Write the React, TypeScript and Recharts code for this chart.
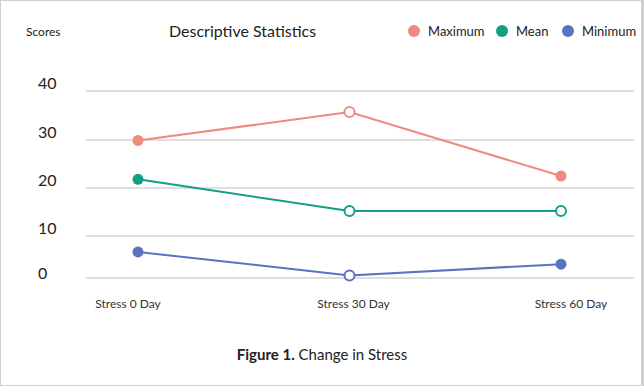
import React from "react";
import { LineChart, Line, XAxis, YAxis, CartesianGrid } from "recharts";

const days = ["Stress 0 Day", "Stress 30 Day", "Stress 60 Day"];
const maximum = [29.9, 35.7, 22.5];
const mean = [21.8, 15.2, 15.2];
const minimum = [6.2, 0.6, 3.3];
const scoreTicks = [0, 10, 20, 30, 40];

// the source axis is not evenly spaced: where each tick sits, 0 = bottom, 1 = top
const tickStops = [0, 0.2246, 0.4813, 0.738, 1];

const COLORS = { Maximum: "#ef8a7e", Mean: "#12a085", Minimum: "#5a73be" };
// which points are drawn as open rings
const hollow: Record<string, number[]> = { Maximum: [1], Mean: [1, 2], Minimum: [1] };

const FONT = "Lato, 'Open Sans', sans-serif";

function stepScale(): any {
  let dom = [0, 40];
  let rng = [0, 1];
  const s: any = (v: number) => {
    let t = 0;
    if (v <= scoreTicks[0]) t = 0;
    else if (v >= scoreTicks[scoreTicks.length - 1]) t = 1;
    else {
      for (let i = 0; i < scoreTicks.length - 1; i++) {
        if (v >= scoreTicks[i] && v <= scoreTicks[i + 1]) {
          const f = (v - scoreTicks[i]) / (scoreTicks[i + 1] - scoreTicks[i]);
          t = tickStops[i] + f * (tickStops[i + 1] - tickStops[i]);
          break;
        }
      }
    }
    return rng[0] + t * (rng[1] - rng[0]);
  };
  s.domain = (d?: number[]) => {
    if (d === undefined) return dom.slice();
    dom = d.map(Number);
    return s;
  };
  s.range = (r?: number[]) => {
    if (r === undefined) return rng.slice();
    rng = r.slice();
    return s;
  };
  s.copy = () => stepScale().domain(dom).range(rng);
  s.ticks = () => scoreTicks.slice();
  s.tickFormat = () => (v: number) => String(v);
  s.nice = () => s;
  s.clamp = () => s;
  return s;
}

const data = days.map((day, i) => ({
  day,
  Maximum: maximum[i],
  Mean: mean[i],
  Minimum: minimum[i],
}));

const makeDot = (name: keyof typeof COLORS) => (p: any) => {
  const open = hollow[name].includes(p.index);
  const c = COLORS[name];
  return (
    <circle
      key={`${name}-${p.index}`}
      cx={p.cx}
      cy={p.cy}
      r={open ? 5 : 5.5}
      fill={open ? "#fff" : c}
      stroke={c}
      strokeWidth={open ? 2 : 0}
    />
  );
};

const YTick = (props: any) => {
  const { y, payload } = props;
  const lift = payload.value === 0 ? 5 : 8;
  return (
    <text x={38} y={y - lift} dy="0.35em" fontSize={16} fill="#222" fontFamily={FONT}>
      {payload.value}
    </text>
  );
};

const tickShift = [-10, 4, 10];
const XTick = (props: any) => {
  const { x, y, payload, index } = props;
  return (
    <text
      x={x + (tickShift[index] ?? 0)}
      y={y + 18}
      dy="0.35em"
      textAnchor="middle"
      fontSize={12}
      fill="#333"
      fontFamily={FONT}
    >
      {payload.value}
    </text>
  );
};

const legendItems = [
  { key: "Maximum", left: 408 },
  { key: "Mean", left: 496 },
  { key: "Minimum", left: 562 },
] as const;

export default function App() {
  return (
    <div style={{ position: "relative", width: 644, height: 386, background: "#fff", fontFamily: FONT }}>
      <style>{"body{margin:0;}"}</style>
      <LineChart
        width={644}
        height={386}
        data={data}
        margin={{ top: 91, right: 10, bottom: 68, left: 0 }}
        style={{ position: "absolute", left: 0, top: 0 }}
      >
        <CartesianGrid vertical={false} stroke="#dedede" strokeWidth={2} />
        <XAxis
          dataKey="day"
          axisLine={false}
          tickLine={false}
          height={40}
          padding={{ left: 52, right: 73 }}
          tick={<XTick />}
          interval={0}
        />
        <YAxis
          domain={[0, 40]}
          scale={stepScale()}
          ticks={scoreTicks}
          axisLine={false}
          tickLine={false}
          width={86}
          tick={<YTick />}
        />
        <Line
          type="linear"
          dataKey="Maximum"
          stroke={COLORS.Maximum}
          strokeWidth={2}
          dot={makeDot("Maximum")}
          activeDot={false}
          isAnimationActive={false}
        />
        <Line
          type="linear"
          dataKey="Mean"
          stroke={COLORS.Mean}
          strokeWidth={2}
          dot={makeDot("Mean")}
          activeDot={false}
          isAnimationActive={false}
        />
        <Line
          type="linear"
          dataKey="Minimum"
          stroke={COLORS.Minimum}
          strokeWidth={2}
          dot={makeDot("Minimum")}
          activeDot={false}
          isAnimationActive={false}
        />
      </LineChart>
      {legendItems.map((it) => (
        <div
          key={it.key}
          style={{
            position: "absolute",
            left: it.left,
            top: 23,
            display: "flex",
            alignItems: "center",
            whiteSpace: "nowrap",
            fontSize: 13,
            color: "#222",
          }}
        >
          <span
            style={{
              width: 12,
              height: 12,
              borderRadius: 6,
              background: COLORS[it.key],
              display: "inline-block",
              marginRight: 8,
            }}
          />
          {it.key}
        </div>
      ))}
      <div style={{ position: "absolute", left: 26, top: 24, fontSize: 12, color: "#222" }}>Scores</div>
      <div style={{ position: "absolute", left: 169, top: 21, fontSize: 16, color: "#222" }}>
        Descriptive Statistics
      </div>
      <div
        style={{
          position: "absolute",
          left: 0,
          width: 644,
          top: 345,
          textAlign: "center",
          fontSize: 15,
          color: "#222",
        }}
      >
        <b>Figure 1.</b> Change in Stress
      </div>
      <div
        style={{
          position: "absolute",
          inset: 0,
          border: "1px solid #cfcfcf",
          borderRightWidth: 3,
          pointerEvents: "none",
        }}
      />
    </div>
  );
}
